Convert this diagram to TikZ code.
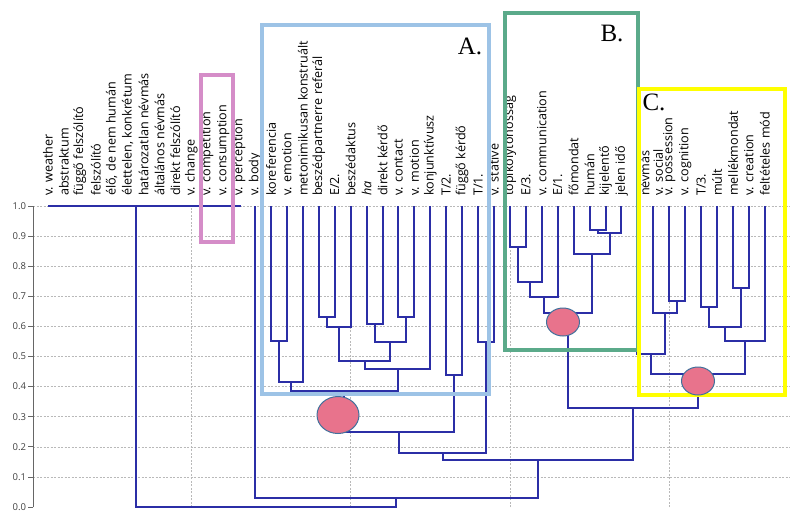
\documentclass[tikz,border=0pt]{standalone}
\usepackage{fontspec}
\usetikzlibrary{shapes.geometric}
\newfontfamily\lblfont{Open Sans}
\newfontfamily\tagfont{Liberation Serif}
\definecolor{denblue}{HTML}{2B2EA6}
\definecolor{boxpink}{HTML}{D58DC8}
\definecolor{boxblue}{HTML}{9DC3E6}
\definecolor{boxgreen}{HTML}{5BAA8A}
\definecolor{boxyellow}{HTML}{FFFF00}
\definecolor{hubfill}{HTML}{E8738C}
\definecolor{hubline}{HTML}{41719C}
\begin{document}
\begin{tikzpicture}[x=1pt,y=-1pt,
  den/.style={denblue,line width=2pt},
  gridline/.style={gray!55,line width=0.6pt,dash pattern=on 2pt off 1.5pt},
  axis/.style={gray!80!black,line width=0.8pt},
  leaf/.style={rotate=90,anchor=west,inner sep=0pt,font=\lblfont\fontsize{12.6}{13}\selectfont},
  ticklbl/.style={anchor=east,inner sep=1.5pt,text=black!75,font=\lblfont\fontsize{9.5}{10}\selectfont},
  frame/.style={line width=4pt},
  tag/.style={font=\tagfont\fontsize{25}{26}\selectfont},
  hub/.style={ellipse,draw=hubline,fill=hubfill,line width=1pt,inner sep=0pt}]
\useasboundingbox (0,0) rectangle (811,523);
\fill[white] (0,0) rectangle (811,523);
\begin{scope}[xshift=48pt,x=15.93pt,yshift=-507pt,y=301pt]
	% grid and axis
	\foreach \k in {1,...,10}
		\draw[gridline] (-0.94,{\k/10}) -- (46.6,{\k/10});
	\foreach \i in {9,19,29,39}
		\draw[gridline] (\i,0) -- (\i,1);
	\draw[axis] (-0.94,0) -- (-0.94,1);
	\foreach \k/\t in {0/0.0,1/0.1,2/0.2,3/0.3,4/0.4,5/0.5,6/0.6,7/0.7,8/0.8,9/0.9,10/1.0}
		\draw[axis] (-0.94,{\k/10}) -- ++(-5pt,0) node[ticklbl] (ax\k) {\t};
	% leaves
	\foreach \t [count=\i from 0] in {v. weather,abstraktum,függő felszólító,felszólító,{élő, de nem humán},{élettelen, konkrétum},határozatlan névmás,általános névmás,direkt felszólító,v. change,v. competition,v. consumption,v. perception,v. body,koreferencia,v. emotion,metonimikusan konstruált,beszédpartnerre referál,E/2.,beszédaktus,\textit{ha},direkt kérdő,v. contact,v. motion,konjunktívusz,T/2.,függő kérdő,T/1.,v. stative,topikolytonossag,E/3.,v. communication,E/1.,főmondat,humán,kijelentő,jelen idő,névmás,v. social,v. possession,v. cognition,T/3.,múlt,mellékmondat,v. creation,feltételes mód}{
		\pgfmathsetmacro\lx{ifthenelse(\i==37,37.45,ifthenelse(\i==38,38.3,\i))}
		\node[leaf] (l\i) at (\lx,1.033) {\t};
	}
	% A
	\draw[den] (14,1) |- (15,.551) -- (15,1);
	\draw[den] (14.5,.551) |- (16,.415) -- (16,1);
	\draw[den] (17,1) |- (18,.631) -- (18,1);
	\draw[den] (17.5,.631) |- (19,.598) -- (19,1);
	\draw[den] (20,1) |- (21,.608) -- (21,1);
	\draw[den] (22,1) |- (23,.631) -- (23,1);
	\draw[den] (20.5,.608) |- (22.5,.548) -- (22.5,.631);
	\draw[den] (18.25,.598) |- (21.5,.485) -- (21.5,.548);
	\draw[den] (19.875,.485) |- (24,.458) -- (24,1);
	\draw[den] (15.25,.415) |- (21.94,.385) -- (21.94,.458);
	\draw[den] (25,1) |- (26,.439) -- (26,1);
	\draw[den] (18.59,.385) |- (25.5,.249) -- (25.5,.439);
	\draw[den] (27,1) |- (28,.548) -- (28,1);
	\draw[den] (22.05,.249) |- (27.5,.179) -- (27.5,.548);
	% B
	\draw[den] (29,1) |- (30,.864) -- (30,1);
	\draw[den] (29.5,.864) |- (31,.748) -- (31,1);
	\draw[den] (30.25,.748) |- (32,.698) -- (32,1);
	\draw[den] (34,1) |- (35,.920) -- (35,1);
	\draw[den] (34.5,.920) |- (36,.910) -- (36,1);
	\draw[den] (33,1) |- (35.25,.841) -- (35.25,.910);
	\draw[den] (31.125,.698) |- (34.125,.645) -- (34.125,.841);
	% C
	\draw[den] (39,1) |- (40,.684) -- (40,1);
	\draw[den] (38,1) |- (39.5,.645) -- (39.5,.684);
	\draw[den] (37,1) |- (38.75,.508) -- (38.75,.645);
	\draw[den] (41,1) |- (42,.664) -- (42,1);
	\draw[den] (43,1) |- (44,.728) -- (44,1);
	\draw[den] (41.5,.664) |- (43.5,.598) -- (43.5,.728);
	\draw[den] (42.5,.598) |- (45,.551) -- (45,1);
	\draw[den] (37.875,.508) |- (43.75,.442) -- (43.75,.551);
	% upper joins
	\draw[den] (32.625,.645) |- (40.81,.329) -- (40.81,.442);
	\draw[den] (24.77,.179) |- (36.72,.156) -- (36.72,.329);
	\draw[den] (13,1) |- (30.74,.030) -- (30.74,.156);
	\draw[den] (0,1) -- (12.1,1);
	\draw[den] (5.5,1) |- (21.87,0) -- (21.87,.030);
\end{scope}
% frames
\draw[frame,boxpink] (201,75) rectangle (233,242);
\draw[frame,boxblue] (262,25) rectangle (489,394);
\draw[frame,boxgreen] (505,13) rectangle (638,350);
\draw[frame,boxyellow] (639,89) rectangle (785,395);
\node[tag] (tagA) at (470,46) {A.};
\node[tag] (tagB) at (612,33) {B.};
\node[tag] (tagC) at (654,102) {C.};
% marks
\node[hub,minimum width=42pt,minimum height=37pt] (hubA) at (338,415) {};
\node[hub,minimum width=33pt,minimum height=28pt] (hubB) at (563,322) {};
\node[hub,minimum width=33pt,minimum height=28pt] (hubC) at (698,381) {};
\end{tikzpicture}
\end{document}
